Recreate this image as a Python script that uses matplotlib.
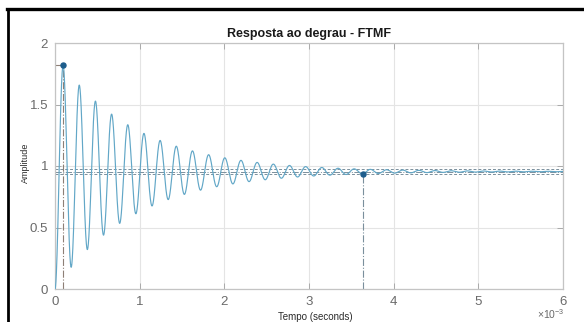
import numpy as np
import matplotlib
matplotlib.use("Agg")
import matplotlib.pyplot as plt
from matplotlib.lines import Line2D

plt.rcParams['font.family'] = ['Liberation Sans', 'DejaVu Sans']
plt.rcParams['mathtext.fontset'] = 'custom'
plt.rcParams['mathtext.rm'] = 'Liberation Sans'
plt.rcParams['mathtext.it'] = 'Liberation Sans'

# Closed-loop transfer function (FTMF) = num(s) / den(s)
tf_num = [1.0346e9]
tf_den = [1.0, 2142.0, 1.0833e9]
t_end = 6e-3          # simulated time, s
settle_tol = 0.02     # settling band (2 %)

x_ticks = [0, 1, 2, 3, 4, 5, 6]
y_ticks = [0, 0.5, 1, 1.5, 2]
y_tick_labels = ['0', '0.5', '1', '1.5', '2']

title_text = 'Resposta ao degrau - FTMF'
xlabel_text = 'Tempo (seconds)'
ylabel_text = 'Amplitude'

LINE_COLOR = '#62a7c7'
MARK_COLOR = '#1d5d8c'
CHAR_COLOR = '#7a8f9c'
TEXT_COLOR = '#6a6a6a'


def step_response(num, den, t):
    """Unit-step response via partial fractions of num/(s*den)."""
    poles = np.roots(den)
    dden = np.polyder(den)
    y = np.full_like(t, np.polyval(num, 0.0) / np.polyval(den, 0.0))
    for p in poles:
        r = np.polyval(num, p) / (p * np.polyval(dden, p))
        y = y + np.real(r * np.exp(p * t))
    return y


t = np.linspace(0.0, t_end, 12001)
y = step_response(tf_num, tf_den, t)
y_final = np.polyval(tf_num, 0.0) / np.polyval(tf_den, 0.0)

# Peak response
i_pk = int(np.argmax(y))
t_pk, y_pk = t[i_pk], y[i_pk]

# Settling time: last sample outside the band
outside = np.nonzero(np.abs(y - y_final) > settle_tol * y_final)[0]
i_st = outside[-1]
t_st, y_st = t[i_st], y[i_st]

ms = 1e3  # axis shown in units of 1e-3 s

W, H = 584, 322
fig = plt.figure(figsize=(W / 100, H / 100), dpi=100)
fig.patch.set_facecolor('white')
ax = fig.add_axes([55 / W, 1 - 289 / H, (563 - 55) / W, (289 - 43) / H])

# characteristic guide lines
ax.axhline(y_final * (1 + settle_tol), color=CHAR_COLOR, lw=0.7, ls=(0, (3, 2)), zorder=2)
ax.axhline(y_final, color=CHAR_COLOR, lw=0.7, ls='-.', zorder=2)
ax.axhline(y_final * (1 - settle_tol), color=CHAR_COLOR, lw=0.7, ls=(0, (3, 2)), zorder=2)
ax.plot([t_pk * ms, t_pk * ms], [0, y_pk], color='#8d7f76', lw=0.8, ls='-.', zorder=2)
ax.plot([0, t_pk * ms], [y_pk, y_pk], color='#8d7f76', lw=0.8, ls='-.', zorder=2)
ax.plot([t_st * ms, t_st * ms], [0, y_st], color=CHAR_COLOR, lw=0.8, ls='-.', zorder=2)

# response
ax.plot(t * ms, y, color=LINE_COLOR, lw=0.85, zorder=3)
ax.plot([t_pk * ms, t_st * ms], [y_pk, y_st], 'o', color=MARK_COLOR, ms=3.6, zorder=4)

ax.set_xlim(0, 6)
ax.set_ylim(0, 2)
ax.set_xticks(x_ticks)
ax.set_yticks(y_ticks)
ax.set_yticklabels(y_tick_labels)
ax.grid(True, color='#e4e4e4', lw=0.8)
ax.set_axisbelow(True)
for s in ax.spines.values():
    s.set_color('#c4c4c4')
    s.set_linewidth(0.9)
ax.tick_params(direction='in', length=4, width=0.6, color='#a0a0a0',
               labelsize=9.5, labelcolor=TEXT_COLOR, top=True, right=True,
               pad=5)

ax.set_title(title_text, fontsize=9, fontweight='bold', color='#1a1a1a', pad=4)
fig.text(315 / W, 1 - 317 / H, xlabel_text, ha='center', va='center',
         fontsize=7, color='#2a2a2a')
fig.text(25 / W, 1 - 163 / H, ylabel_text, ha='center', va='center',
         rotation=90, fontsize=6.5, color='#2a2a2a')
fig.text(565 / W, 1 - 321 / H, r'$\times10^{-3}$', ha='right', va='bottom',
         fontsize=7.5, color=TEXT_COLOR)

# screenshot frame edges
fig.add_artist(Line2D([7 / W, 1], [1 - 8.7 / H, 1 - 8.7 / H], color='black',
                      lw=2.4, transform=fig.transFigure))
fig.add_artist(Line2D([7.8 / W, 7.8 / W], [0, 1 - 8.7 / H], color='black',
                      lw=2.0, transform=fig.transFigure))

fig.savefig('out.png', dpi=100, facecolor='white')
